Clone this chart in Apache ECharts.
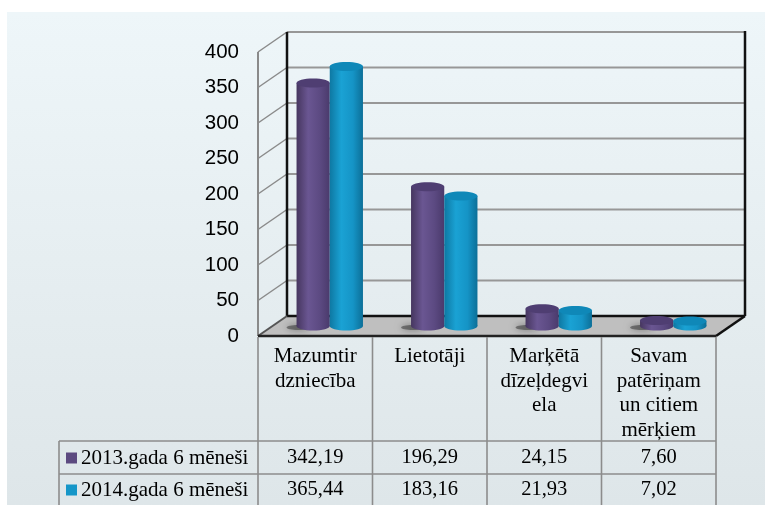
<!DOCTYPE html>
<html><head><meta charset="utf-8">
<script src="https://cdn.jsdelivr.net/npm/echarts@6/dist/echarts.min.js"></script>
<style>html,body{margin:0;padding:0;background:#fff}#c{width:765px;height:505px}</style>
</head><body><div id="c"></div>
<script>
const categories = ['Mazumtir\ndzniecība', 'Lietotāji', 'Marķētā\ndīzeļdegvi\nela', 'Savam\npatēriņam\nun citiem\nmērķiem'];
const seriesNames = ['2013.gada 6 mēneši', '2014.gada 6 mēneši'];
const values2013 = [342.19, 196.29, 24.15, 7.60];
const values2014 = [365.44, 183.16, 21.93, 7.02];
const yTicks = [0, 50, 100, 150, 200, 250, 300, 350, 400];

const allValues = [values2013, values2014];
const COLORS = ['#5c4a80', '#1596c8'];
const TOPS = ['#4f3e72', '#0f88b8'];
const GRADS = [
  {type:'linear', x:0, y:0, x2:1, y2:0, colorStops:[
    {offset:0, color:'#46365f'}, {offset:0.35, color:'#6a5692'}, {offset:0.7, color:'#5c4a82'}, {offset:1, color:'#4a3a6c'}]},
  {type:'linear', x:0, y:0, x2:1, y2:0, colorStops:[
    {offset:0, color:'#0e78a2'}, {offset:0.35, color:'#1aa2d4'}, {offset:0.7, color:'#1594c6'}, {offset:1, color:'#0c6f98'}]}
];
const DX = 29, DY = -20;

const chart = echarts.init(document.getElementById('c'), null, {renderer:'canvas'});

function makeRender(s) {
  return function (params, api) {
    const c = api.value(0), v = api.value(1);
    const p0 = api.coord([c, 0]);
    const p1 = api.coord([c, v]);
    const band = api.size([1, 0])[0];
    const w = band * 0.29;
    const rx = w / 2, ry = 4.5;
    const cx = p0[0] + DX / 2 + (s === 0 ? -rx : rx);
    const by = p0[1] + DY / 2, ty = p1[1] + DY / 2;
    const children = [];
    if (s === 0) {
      children.push({type:'ellipse', shape:{cx: cx - rx * 0.9, cy: by + 1.5, rx: rx * 0.7, ry: 2.5},
        style:{fill:'rgba(30,30,30,0.45)', shadowBlur:7, shadowColor:'rgba(0,0,0,0.85)'}});
    }
    children.push({type:'ellipse', shape:{cx, cy:by, rx, ry}, style:{fill:GRADS[s]}});
    children.push({type:'rect', shape:{x:cx - rx, y:ty, width:w, height:Math.max(0, by - ty)}, style:{fill:GRADS[s]}});
    children.push({type:'ellipse', shape:{cx, cy:ty, rx, ry}, style:{fill:TOPS[s]}});
    return {type:'group', children};
  };
}

const option = {
  backgroundColor:'#ffffff',
  animation:false,
  grid:{left:258, right:49, top:52, bottom:169, containLabel:false},
  xAxis:{type:'category', data:categories, axisLine:{show:false}, axisTick:{show:false}, axisLabel:{show:false}, splitLine:{show:false}},
  yAxis:{type:'value', min:yTicks[0], max:yTicks[yTicks.length-1], interval:50,
    axisLine:{show:false}, axisTick:{show:false}, splitLine:{show:false},
    axisLabel:{color:'#000', fontSize:20.5, fontFamily:'Liberation Sans, Arial, sans-serif', margin:19}},
  series: allValues.map((vals, s) => ({
    type:'custom', name:seriesNames[s], renderItem:makeRender(s), clip:false, z:5,
    encode:{x:0, y:1},
    data: vals.map((v, i) => [i, v])
  }))
};
chart.setOption(option);

const px = i => chart.convertToPixel({xAxisIndex:0}, i);
const py = v => chart.convertToPixel({yAxisIndex:0}, v);
const band = px(1) - px(0);
const L = px(0) - band / 2, R = px(categories.length - 1) + band / 2;
const yT = py(yTicks[yTicks.length - 1]), yB = py(0);

const G = [];
// panel background
G.push({type:'rect', z:-100, shape:{x:7, y:12, width:765 - 7, height:505 - 12},
  style:{fill:{type:'linear', x:0, y:0, x2:0, y2:1, colorStops:[{offset:0, color:'#eef6f9'}, {offset:1, color:'#dee6e9'}]}}});
// gridlines on back wall and side wall
yTicks.forEach(v => {
  if (v === 0) return;
  const y = py(v);
  G.push({type:'line', z:-50, shape:{x1:L + DX, y1:y + DY, x2:R + DX, y2:y + DY}, style:{stroke:'#979797', lineWidth:2}});
  G.push({type:'line', z:-50, shape:{x1:L, y1:y, x2:L + DX, y2:y + DY}, style:{stroke:'#8a8a8a', lineWidth:1.5}});
});
// back wall verticals
G.push({type:'line', z:-45, shape:{x1:L + DX, y1:yT + DY, x2:L + DX, y2:yB + DY}, style:{stroke:'#111', lineWidth:2.5}});
G.push({type:'line', z:-45, shape:{x1:R + DX, y1:yT + DY - 1, x2:R + DX, y2:yB + DY}, style:{stroke:'#111', lineWidth:2.5}});
// front axis line
G.push({type:'line', z:-45, shape:{x1:L, y1:yT, x2:L, y2:yB}, style:{stroke:'#8a8a8a', lineWidth:2}});
// floor
G.push({type:'polygon', z:-40, shape:{points:[[L, yB], [R, yB], [R + DX, yB + DY], [L + DX, yB + DY]]}, style:{fill:'#bfbfbf'}});
G.push({type:'line', z:-39, shape:{x1:L + DX, y1:yB + DY, x2:R + DX, y2:yB + DY}, style:{stroke:'#111', lineWidth:2.5}});
G.push({type:'line', z:-39, shape:{x1:R, y1:yB, x2:R + DX, y2:yB + DY}, style:{stroke:'#111', lineWidth:2.5}});
G.push({type:'line', z:-39, shape:{x1:L, y1:yB, x2:L + DX, y2:yB + DY}, style:{stroke:'#555', lineWidth:2}});
G.push({type:'line', z:-39, shape:{x1:L, y1:yB, x2:R, y2:yB}, style:{stroke:'#222', lineWidth:2.5}});

// data table
const tTop = yB + 1, row1 = 441, row2 = 474, tBot = 505, legL = 59;
const lineStyle = {stroke:'#8c8c8c', lineWidth:1.6};
for (let i = 0; i <= categories.length; i++) {
  const x = L + i * band;
  G.push({type:'line', z:10, shape:{x1:x, y1:tTop, x2:x, y2:tBot}, style:lineStyle});
}
G.push({type:'line', z:10, shape:{x1:legL, y1:row1, x2:R, y2:row1}, style:lineStyle});
G.push({type:'line', z:10, shape:{x1:legL, y1:row2, x2:R, y2:row2}, style:lineStyle});
G.push({type:'line', z:10, shape:{x1:legL, y1:row1, x2:legL, y2:tBot}, style:lineStyle});
const serif = 'Liberation Serif, Times New Roman, serif';
categories.forEach((c, i) => {
  G.push({type:'text', z:11, x:L + (i + 0.5) * band, y:344.5,
    style:{text:c, font:'21px ' + serif, fill:'#000', align:'center', verticalAlign:'top', lineHeight:24.5}});
});
const rowMid = [(row1 + row2) / 2 + 0.5, (row2 + tBot) / 2 + 0.5];
allValues.forEach((vals, s) => {
  G.push({type:'rect', z:11, shape:{x:66, y:rowMid[s] - 5.5, width:11, height:11}, style:{fill:COLORS[s]}});
  G.push({type:'text', z:11, x:81, y:rowMid[s],
    style:{text:seriesNames[s], font:'21px ' + serif, fill:'#000', align:'left', verticalAlign:'middle'}});
  vals.forEach((v, i) => {
    G.push({type:'text', z:11, x:L + (i + 0.5) * band, y:rowMid[s],
      style:{text:v.toFixed(2).replace('.', ','), font:'20.5px ' + serif, fill:'#000', align:'center', verticalAlign:'middle'}});
  });
});
chart.setOption({graphic:G});
</script></body></html>
